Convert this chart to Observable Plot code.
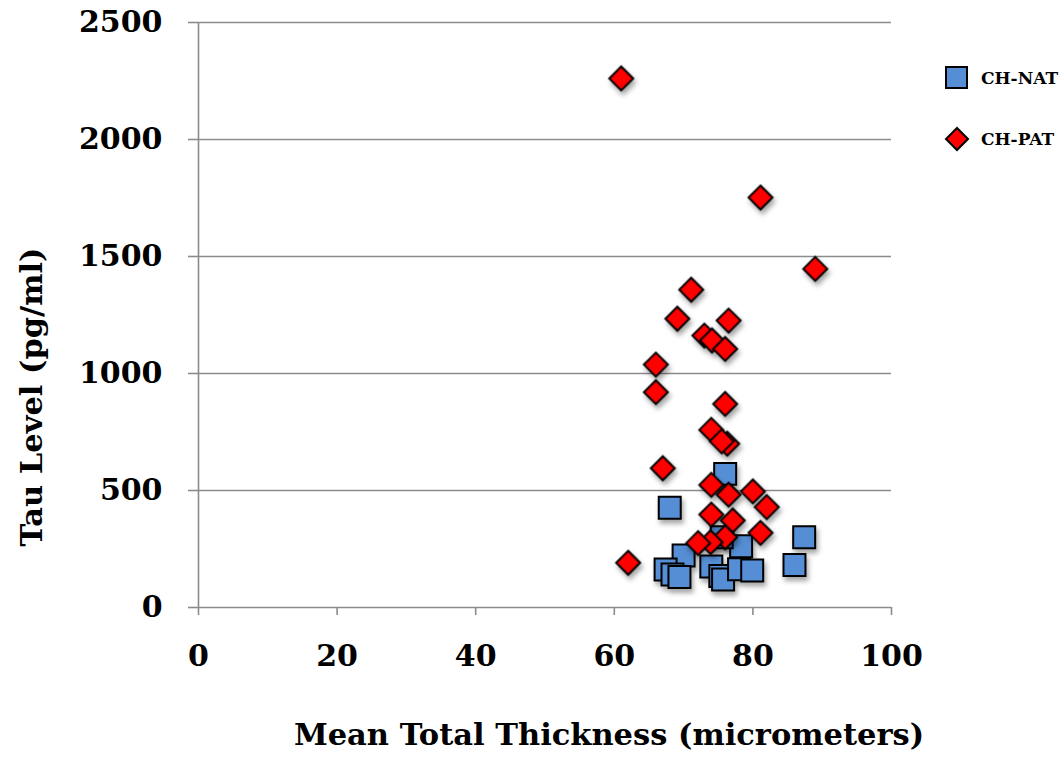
<!DOCTYPE html>
<html>
<head>
<meta charset="utf-8">
<script src="https://cdn.jsdelivr.net/npm/d3@7"></script>
<script src="https://cdn.jsdelivr.net/npm/@observablehq/plot@0.6"></script>
<style>
  body { margin: 0; background: #fff; }
  #wrap { position: relative; width: 1062px; height: 759px; }
  #chart svg g[aria-label="dot"] { filter: drop-shadow(2px 4px 2.5px rgba(0,0,0,0.35)); }
  .legend { position: absolute; left: 945px; font-family: "DejaVu Serif", serif; font-weight: bold; font-size: 17px; display: flex; align-items: center; }
  .legend svg { margin-right: 12px; overflow: visible; }
</style>
</head>
<body>
<div id="wrap">
  <div id="chart"></div>
</div>
<script>
// CH-NAT (blue squares)
const natX = [68.0, 76.0, 87.4, 78.3, 75.5, 70.0, 86.0, 67.4, 68.4, 69.4, 74.0, 75.3, 75.7, 78.0, 79.9];
const natY = [426, 571, 300, 262, 300, 222, 182, 162, 141, 130, 175, 135, 120, 163, 158];
// CH-PAT (red diamonds)
const patX = [61.0, 81.1, 89.0, 71.1, 69.1, 76.5, 73.0, 74.1, 76.0, 66.0, 66.0, 76.0, 74.0, 76.3, 75.5, 67.0, 74.0, 76.5, 80.0, 82.0, 74.0, 77.1, 81.1, 76.0, 73.9, 72.1, 62.0];
const patY = [2261, 1752, 1447, 1358, 1234, 1226, 1162, 1141, 1105, 1038, 920, 870, 759, 700, 710, 595, 524, 482, 496, 429, 397, 372, 319, 300, 279, 275, 191];
const xTicks = [0, 20, 40, 60, 80, 100];
const yTicks = [0, 500, 1000, 1500, 2000, 2500];
const seriesNames = ["CH-NAT", "CH-PAT"];
const seriesColors = ["#558ED5", "#FF0000"];
const xTitle = "Mean Total Thickness (micrometers)";
const yTitle = "Tau Level (pg/ml)";

const nat = natX.map((x, i) => ({x, y: natY[i]}));
const pat = patX.map((x, i) => ({x, y: patY[i]}));

const tickFont = {fontFamily: "DejaVu Serif", fontWeight: "bold", fontSize: 30};
const axisColor = "#8c8c8c";

const plot = Plot.plot({
  width: 1062,
  height: 759,
  marginLeft: 198,
  marginRight: 171,
  marginTop: 22,
  marginBottom: 152,
  style: {background: "#fff", color: "#000", overflow: "visible"},
  x: {domain: [0, 100]},
  y: {domain: [0, 2500]},
  marks: [
    Plot.gridY(yTicks.slice(1), {stroke: axisColor, strokeOpacity: 1, strokeWidth: 1.6}),
    Plot.ruleX([0], {stroke: axisColor, strokeWidth: 1.6}),
    Plot.ruleY([0], {stroke: axisColor, strokeWidth: 1.6}),
    Plot.axisY(yTicks, {tickSize: 10, tickPadding: 26, stroke: axisColor, strokeWidth: 1.6, ...tickFont,
      tickFormat: d => String(d), label: null}),
    Plot.axisX(xTicks, {tickSize: 8, tickPadding: 29, stroke: axisColor, strokeWidth: 1.6, ...tickFont,
      tickFormat: d => String(d), label: null}),
    Plot.text([xTitle], {text: d => d, frameAnchor: "bottom", textAnchor: "middle", dx: 64, dy: 128, lineAnchor: "middle",
      fontFamily: "DejaVu Serif", fontWeight: "bold", fontSize: 30.5, fill: "#000"}),
    Plot.text([yTitle], {text: d => d, frameAnchor: "left", textAnchor: "middle", rotate: -90, dx: -166, dy: 82, lineAnchor: "middle",
      fontFamily: "DejaVu Serif", fontWeight: "bold", fontSize: 30.5, fill: "#000"}),
    Plot.dot(nat, {x: "x", y: "y", symbol: "square", r: 12.4, fill: seriesColors[0], stroke: "#000", strokeWidth: 2}),
    Plot.dot(pat, {x: "x", y: "y", symbol: "diamond2", r: 10.8, fill: seriesColors[1], stroke: "#000", strokeWidth: 2})
  ]
});
document.getElementById("chart").appendChild(plot);

// legend
const wrap = document.getElementById("wrap");
const legendTops = [66, 127];
seriesNames.forEach((name, i) => {
  const div = document.createElement("div");
  div.className = "legend";
  div.style.top = legendTops[i] + "px";
  const sym = i === 0
    ? `<svg width="24" height="24"><rect x="1" y="1" width="21" height="21" fill="${seriesColors[0]}" stroke="#000" stroke-width="2"/></svg>`
    : `<svg width="24" height="24"><path d="M12,1L23,12L12,23L1,12Z" fill="${seriesColors[1]}" stroke="#000" stroke-width="2"/></svg>`;
  div.innerHTML = sym + `<span>${name}</span>`;
  wrap.appendChild(div);
});
</script>
</body>
</html>
